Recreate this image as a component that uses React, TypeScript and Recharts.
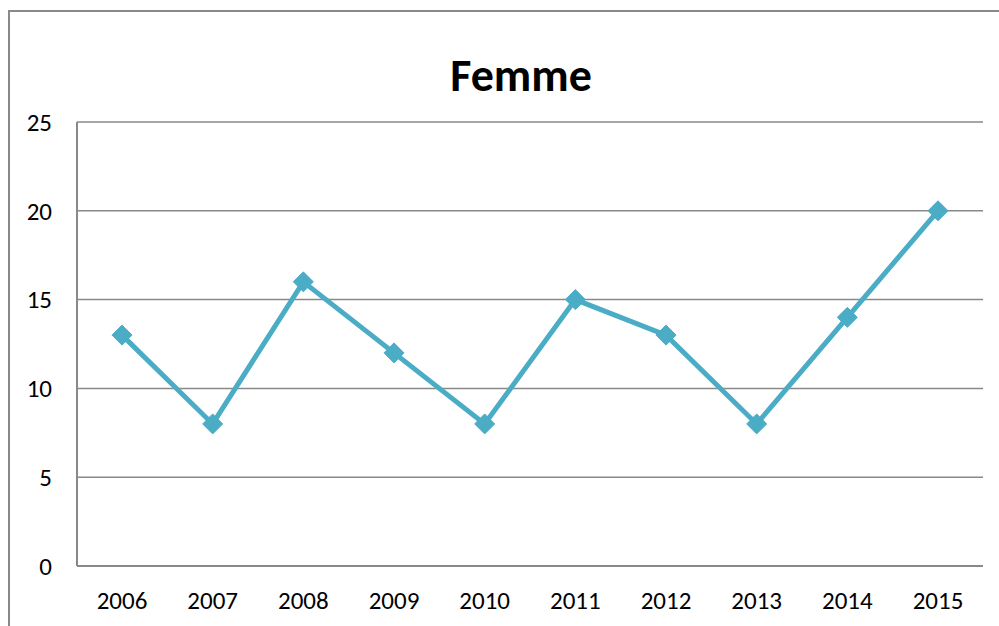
import {LineChart, Line, CartesianGrid, YAxis, XAxis} from "recharts";

const years = ["2006", "2007", "2008", "2009", "2010", "2011", "2012", "2013", "2014", "2015"];
const femme = [13, 8, 16, 12, 8, 15, 13, 8, 14, 20];
const yTicks = [0, 5, 10, 15, 20, 25];

const data = years.map((year, i) => ({year, femme: femme[i]}));

const FONT = "Carlito, Calibri, Lato, 'Open Sans', sans-serif";
const GRAY = "#898989";
const TEAL = "#4BACC6";

const Diamond = (props: any) => {
    const {cx, cy} = props;
    if (cx == null || cy == null) return null;
    const r = 10;
    return (
        <path
            d={`M${cx},${cy - r} L${cx + r},${cy} L${cx},${cy + r} L${cx - r},${cy} Z`}
            fill={TEAL}
            stroke={TEAL}
            strokeWidth={1}
        />
    );
};

export default function App() {
    return (
        <div style={{position: "absolute", left: 0, top: 0, width: 999, height: 626, overflow: "hidden", background: "#fff", fontFamily: FONT}}>
            <div style={{position: "absolute", left: 8, top: 10, width: 1100, height: 700, borderLeft: `2px solid ${GRAY}`, borderTop: `2px solid ${GRAY}`}} />
            <div style={{position: "absolute", left: 0, width: 1042, top: 44, textAlign: "center", fontSize: 46, lineHeight: "62px", fontWeight: "bold", color: "#000"}}>
                Femme
            </div>
            <div style={{position: "absolute", left: 0, top: 0}}>
                <LineChart width={999} height={626} data={data} margin={{top: 122, right: 16, bottom: 0, left: 0}}>
                    <CartesianGrid vertical={false} stroke={GRAY} strokeWidth={1.5} />
                    <XAxis
                        dataKey="year"
                        height={60}
                        padding={{left: 45, right: 45}}
                        tickLine={false}
                        tickSize={25}
                        tickMargin={0}
                        fontSize={25}
                        fontFamily={FONT}
                        axisLine={{stroke: GRAY, strokeWidth: 2}}
                        tick={{fill: "#000", fontSize: 25}}
                        interval={0}
                    />
                    <YAxis
                        width={77}
                        domain={[0, 25]}
                        ticks={yTicks}
                        tickLine={false}
                        tickSize={25}
                        tickMargin={0}
                        fontSize={25}
                        fontFamily={FONT}
                        axisLine={{stroke: GRAY, strokeWidth: 2}}
                        tick={{fill: "#000", fontSize: 25}}
                    />
                    <Line
                        type="linear"
                        dataKey="femme"
                        stroke={TEAL}
                        strokeWidth={5}
                        dot={<Diamond />}
                        activeDot={false}
                        isAnimationActive={false}
                    />
                </LineChart>
            </div>
        </div>
    );
}
